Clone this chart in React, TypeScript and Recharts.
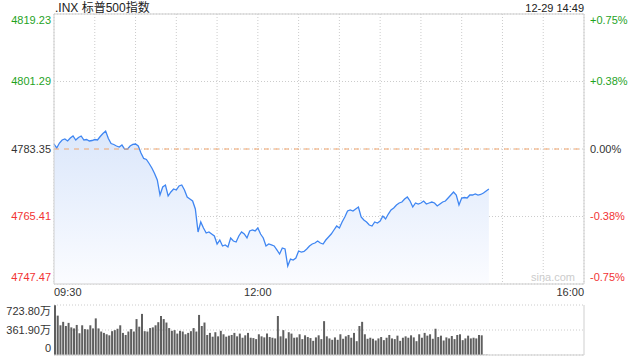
import {
  ComposedChart,
  BarChart,
  Area,
  Line,
  Bar,
  XAxis,
  YAxis,
  CartesianGrid,
  ReferenceLine,
} from 'recharts'

const FONT = '"Liberation Sans", Arial, "Noto Sans CJK SC", sans-serif'

const title = '.INX 标普500指数'
const stamp = '12-29 14:49'
const prevClose = 4783.35

// y axis
const priceTicks = [4747.47, 4765.41, 4783.35, 4801.29, 4819.23]
const pctLabels = ['-0.75%', '-0.38%', '0.00%', '+0.38%', '+0.75%']

// minutes after 09:30, one grid line every half hour
const timeTicks = [0, 30, 60, 90, 120, 150, 180, 210, 240, 270, 300, 330, 360, 390]
const timeLabels: Record<number, string> = { 0: '09:30', 150: '12:00', 390: '16:00' }

// index level, one point every 2 minutes from 09:30
const prices = [
  4784.68, 4783.62, 4784.94, 4785.74, 4786.01, 4785.48, 4786.27, 4786.81, 4785.74, 4786.41,
  4786.81, 4785.74, 4785.87, 4785.48, 4785.61, 4785.87, 4785.74, 4786.67, 4787.47, 4788.13,
  4786.14, 4784.81, 4784.55, 4784.15, 4783.88, 4784.41, 4783.35, 4783.3, 4784.15, 4784.55,
  4784.68, 4784.15, 4782.29, 4780.83, 4780.56, 4779.5, 4778.3, 4776.84, 4775.11, 4771.12,
  4773.25, 4773.78, 4770.86, 4771.92, 4772.72, 4772.45, 4773.52, 4773.78, 4772.45, 4770.59,
  4770.06, 4769.53, 4767.4, 4761.29, 4763.95, 4762.35, 4761.02, 4761.29, 4760.76, 4760.23,
  4758.1, 4759.16, 4757.57, 4757.84, 4757.3, 4759.7, 4758.9, 4758.63, 4760.23, 4761.29,
  4760.76, 4759.7, 4761.56, 4761.82, 4761.56, 4762.35, 4760.76, 4759.7, 4757.57, 4758.1,
  4757.84, 4757.57, 4756.51, 4755.44, 4757.04, 4756.77, 4752.25, 4754.11, 4753.85, 4754.38,
  4756.24, 4755.97, 4756.11, 4756.77, 4757.57, 4758.1, 4758.37, 4758.9, 4758.37, 4758.1,
  4759.16, 4759.96, 4760.76, 4761.82, 4762.88, 4762.35, 4763.95, 4765.28, 4766.87, 4767.14,
  4766.87, 4767.4, 4767.93, 4765.28, 4764.48, 4763.95, 4763.15, 4762.88, 4763.95, 4763.68,
  4764.21, 4765.54, 4764.75, 4766.07, 4767.14, 4767.67, 4768.47, 4769.0, 4769.26, 4770.06,
  4770.59, 4769.53, 4767.93, 4769.0, 4768.73, 4769.0, 4769.53, 4768.73, 4769.0, 4769.26,
  4769.0, 4768.2, 4768.73, 4769.26, 4769.53, 4770.33, 4771.12, 4771.92, 4771.12, 4768.47,
  4770.33, 4770.46, 4770.33, 4771.12, 4771.12, 4771.39, 4771.12, 4771.26, 4771.66, 4772.19,
  4772.72,
]

// volume per 2-minute bin, in 万
const volumes = [
  720, 570, 430, 480, 420, 465, 400, 385, 435, 315,
  430, 375, 370, 430, 385, 530, 385, 340, 320, 300,
  285, 345, 360, 380, 430, 320, 290, 340, 375, 340,
  520, 410, 595, 345, 340, 390, 400, 430, 475, 565,
  520, 470, 390, 350, 360, 310, 350, 340, 300, 320,
  345, 390, 340, 580, 420, 470, 290, 320, 265, 330,
  270, 350, 300, 265, 280, 290, 320, 270, 310, 250,
  285, 320, 250, 245, 230, 300, 270, 255, 310, 260,
  250, 240, 565, 270, 360, 240, 330, 310, 250, 255,
  300, 230, 285, 260, 245, 205, 255, 285, 230, 490,
  270, 240, 220, 255, 220, 300, 235, 270, 290, 250,
  320, 200, 420, 480, 300, 235, 250, 235, 210, 240,
  260, 215, 250, 290, 240, 230, 280, 205, 250, 270,
  250, 285, 255, 200, 300, 250, 320, 280, 300, 235,
  380, 260, 280, 210, 255, 240, 275, 230, 290, 300,
  215, 240, 280, 240, 250, 240, 290, 285, 4, 4,
]
const volTicks = [0, 361.9, 723.8]
const volLabels = ['0', '361.90万', '723.80万']

const priceData = prices.map((price, i) => ({ minute: i * 2, price }))
const volData = volumes.map((vol, i) => ({ minute: i * 2 + 1, vol }))

const UP = '#1fa31f'
const DOWN = '#f23333'
const FLAT = '#333'
const BORDER = '#cfcfcf'
const GRID = '#cccccc'

function colorFor(v: number) {
  if (v > prevClose) return UP
  if (v < prevClose) return DOWN
  return FLAT
}

// keep the edge labels inside the plot
function edgeShift(i: number, last: number, down: number, up: number) {
  if (i === last) return down
  if (i === 0) return up
  return 0
}

function PriceTick({ x, y, payload }: any) {
  const i = priceTicks.indexOf(payload.value)
  return (
    <text x={x} y={y + edgeShift(i, priceTicks.length - 1, 6, -7)} dy="0.35em" textAnchor="end"
      fontSize={11} fontFamily={FONT} fill={colorFor(payload.value)}>
      {payload.value.toFixed(2)}
    </text>
  )
}

function PctTick({ x, y, payload }: any) {
  const i = priceTicks.indexOf(payload.value)
  return (
    <text x={x} y={y + edgeShift(i, priceTicks.length - 1, 6, -7)} dy="0.35em" textAnchor="start"
      fontSize={11} fontFamily={FONT} fill={colorFor(payload.value)}>
      {pctLabels[i]}
    </text>
  )
}

function TimeTick({ x, y, payload }: any) {
  const label = timeLabels[payload.value]
  if (!label) return <g />
  const anchor = payload.value === 0 ? 'start' : payload.value === 390 ? 'end' : 'middle'
  return (
    <text x={x} y={y} dy="0.71em" textAnchor={anchor} fontSize={11} fontFamily={FONT} fill="#333">
      {label}
    </text>
  )
}

function VolTick({ x, y, payload }: any) {
  const i = volTicks.indexOf(payload.value)
  return (
    <text x={x} y={y + edgeShift(i, volTicks.length - 1, 6.5, -7)} dy="0.35em" textAnchor="end"
      fontSize={11} fontFamily={FONT} fill="#333">
      {volLabels[i]}
    </text>
  )
}

export default function App() {
  return (
    <div style={{ position: 'fixed', left: 0, top: 0, width: 640, height: 360, background: '#fff', fontFamily: FONT }}>
      <div style={{ position: 'absolute', left: 55, top: 0, fontSize: 12, lineHeight: '16px', color: '#222' }}>
        {title}
      </div>
      <div style={{ position: 'absolute', right: 56, top: 1, fontSize: 11, lineHeight: '14px', color: '#222' }}>
        {stamp}
      </div>

      <div style={{ position: 'absolute', left: 0, top: 0 }}>
        <ComposedChart width={640} height={300} data={priceData} margin={{ top: 14, right: 0, bottom: 0, left: 0 }}>
          <defs>
            <linearGradient id="priceFill" x1="0" y1="0" x2="0" y2="1">
              <stop offset="0%" stopColor="#dbe7fb" />
              <stop offset="100%" stopColor="#fbfcff" />
            </linearGradient>
          </defs>
          <CartesianGrid stroke={GRID} strokeDasharray="1 2" />
          <XAxis
            dataKey="minute"
            type="number"
            domain={[0, 390]}
            ticks={timeTicks}
            interval={0}
            tick={<TimeTick />}
            tickLine={false}
            tickSize={0}
            tickMargin={4}
            height={16}
            axisLine={{ stroke: BORDER }}
          />
          <YAxis
            domain={[priceTicks[0], priceTicks[priceTicks.length - 1]]}
            ticks={priceTicks}
            interval={0}
            tick={<PriceTick />}
            tickLine={false}
            tickSize={3}
            tickMargin={0}
            width={54}
            axisLine={{ stroke: BORDER }}
          />
          <YAxis
            yAxisId="right"
            orientation="right"
            domain={[priceTicks[0], priceTicks[priceTicks.length - 1]]}
            ticks={priceTicks}
            interval={0}
            tick={<PctTick />}
            tickLine={false}
            tickSize={6}
            tickMargin={0}
            width={56}
            axisLine={{ stroke: BORDER }}
          />
          <ReferenceLine y={priceTicks[priceTicks.length - 1]} stroke={BORDER} />
          <ReferenceLine y={prevClose} stroke="#f0a46c" strokeDasharray="5 5" />
          <Area
            type="linear"
            dataKey="price"
            stroke="#3f86f2"
            strokeWidth={1.3}
            fill="url(#priceFill)"
            fillOpacity={1}
            dot={false}
            activeDot={false}
            isAnimationActive={false}
          />
          <Line yAxisId="right" dataKey="price" stroke="none" dot={false} activeDot={false} isAnimationActive={false} />
        </ComposedChart>
      </div>

      <div style={{ position: 'absolute', left: 531, top: 271, fontSize: 11, color: '#cccccc' }}>sina.com</div>

      <div style={{ position: 'absolute', left: 0, top: 300 }}>
        <BarChart width={640} height={60} data={volData} margin={{ top: 5, right: 56, bottom: 5, left: 0 }}>
          <CartesianGrid stroke={GRID} strokeDasharray="1 2" vertical={false} />
          <XAxis dataKey="minute" type="number" domain={[0, 390]} hide />
          <YAxis
            domain={[0, 723.8]}
            ticks={volTicks}
            interval={0}
            tick={<VolTick />}
            tickLine={false}
            tickSize={3}
            tickMargin={0}
            width={54}
            axisLine={false}
          />
          <ReferenceLine y={0} stroke={BORDER} />
          <ReferenceLine x={390} stroke={BORDER} />
          <Bar dataKey="vol" fill="#5f5f5f" barSize={2} isAnimationActive={false} />
        </BarChart>
      </div>
    </div>
  )
}
